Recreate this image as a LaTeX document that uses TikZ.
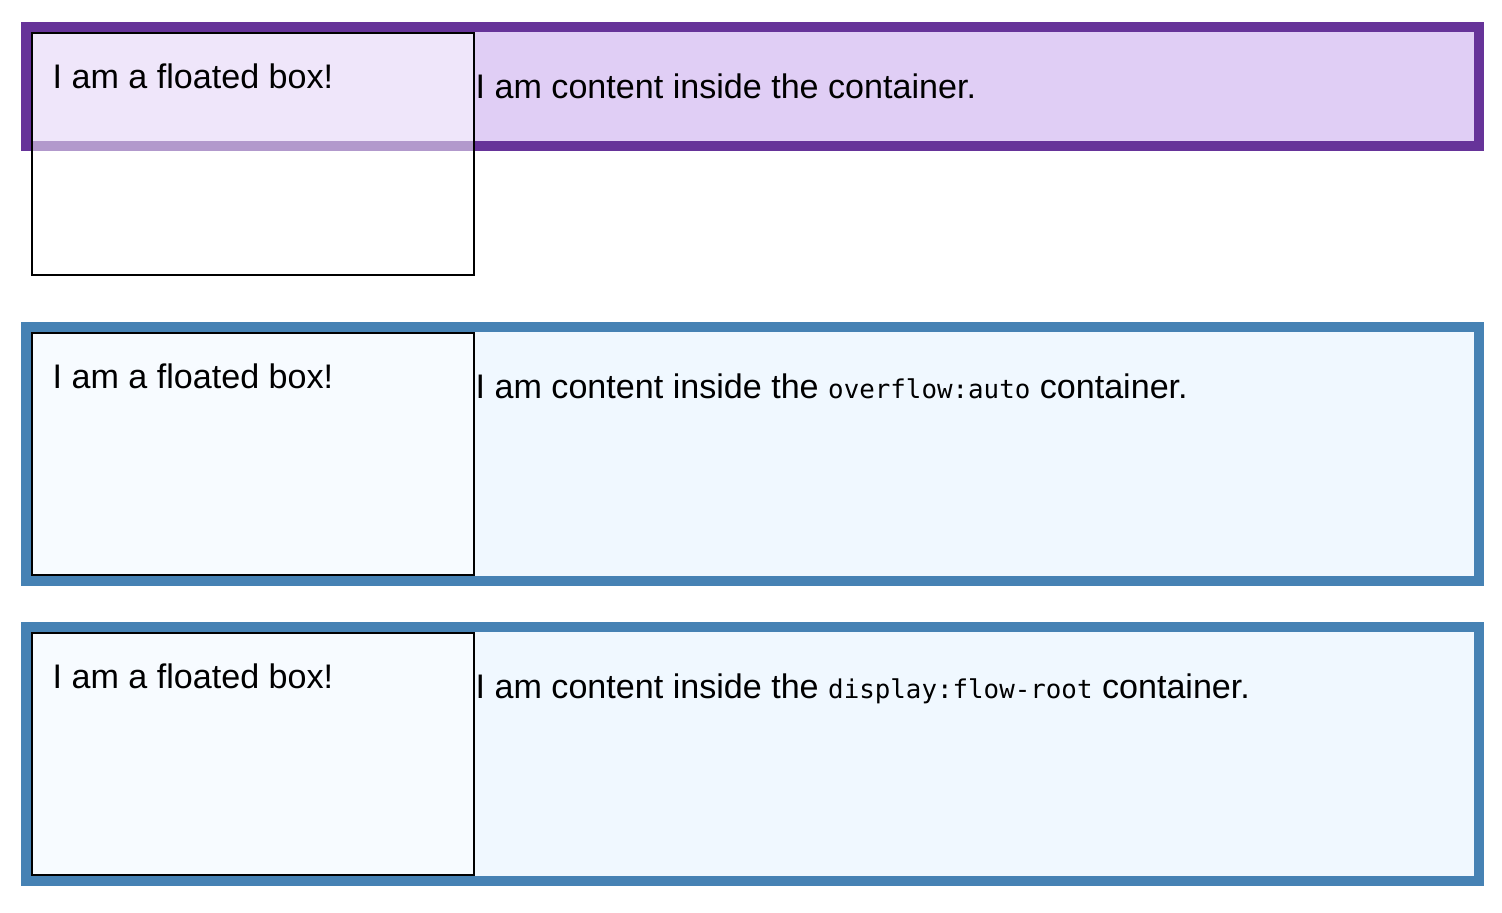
\documentclass[tikz,border=0pt]{standalone}
\usepackage{fontspec}
\setmainfont{Liberation Sans}
\newfontfamily\codefont{DejaVu Sans Mono}
\definecolor{rebecca}{HTML}{663399}
\definecolor{lavender}{HTML}{E0CEF5}
\definecolor{steel}{HTML}{4682B4}
\definecolor{aliceblue}{HTML}{F0F8FF}
\newcommand{\code}[1]{{\codefont\fontsize{7.35}{9}\selectfont #1}}

\begin{document}
\begin{tikzpicture}[
  wrapper/.style={line width=1mm, anchor=north west, inner sep=0pt, minimum width=14.53cm},
  floatbox/.style={draw=black, line width=0.2mm, fill=white, fill opacity=0.5, anchor=north west, inner sep=0pt, minimum width=4.42cm, minimum height=2.42cm},
  boxtext/.style={anchor=base west, inner sep=0pt, font=\fontsize{9.7}{11}\selectfont}
]
\fill[white] (0,0) rectangle (15.02,-9.12);
\useasboundingbox (0,0) rectangle (15.02,-9.12);

% plain container
\node[wrapper, draw=rebecca, fill=lavender, minimum height=1.19cm] (wrap1) at (0.21,-0.22) {};
\node[floatbox] (float1) at (0.31,-0.32) {};
\node[boxtext] (ftext1) at (0.52,-0.88) {I am a floated box!};
\node[boxtext] (ctext1) at (4.75,-0.98) {I am content inside the container.};

% overflow:auto
\node[wrapper, draw=steel, fill=aliceblue, minimum height=2.54cm] (wrap2) at (0.21,-3.22) {};
\node[floatbox] (float2) at (0.31,-3.32) {};
\node[boxtext] (ftext2) at (0.52,-3.88) {I am a floated box!};
\node[boxtext] (ctext2) at (4.75,-3.98) {I am content inside the \code{overflow:auto} container.};

% display:flow-root
\node[wrapper, draw=steel, fill=aliceblue, minimum height=2.54cm] (wrap3) at (0.21,-6.22) {};
\node[floatbox] (float3) at (0.31,-6.32) {};
\node[boxtext] (ftext3) at (0.52,-6.88) {I am a floated box!};
\node[boxtext] (ctext3) at (4.75,-6.98) {I am content inside the \code{display:flow-root} container.};
\end{tikzpicture}
\end{document}
